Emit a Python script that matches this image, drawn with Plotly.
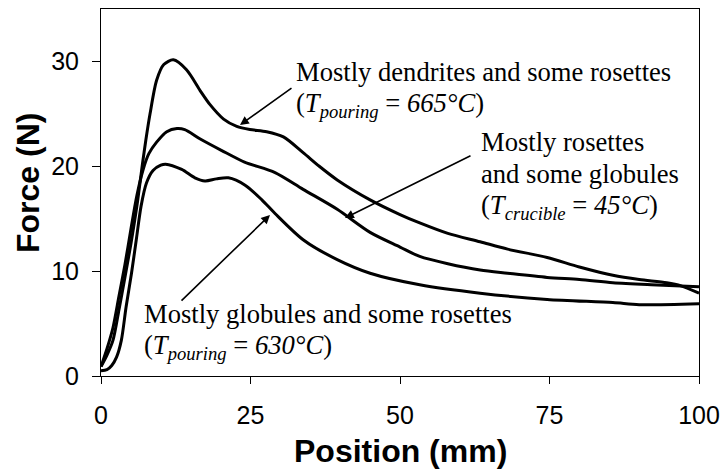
import plotly.graph_objects as go

# ---- data ----
x_dend = [0, 1, 2, 3, 4, 5, 6, 7, 7.5, 8.2, 9.3, 10.5, 12.1, 14.3, 16.6, 18.2, 20.5,
          22.7, 24.9, 27.7, 30.5, 33.8, 36.5, 39.5, 45, 50, 53.3, 58, 63.4, 68, 74.6,
          80, 85.6, 90, 94.6, 97, 100]
f_dend = [0.9, 2.0, 3.4, 6.3, 9.4, 12.6, 16.2, 20.5, 22.5, 25.0, 28.2, 29.7, 30.15,
          29.2, 27.2, 25.9, 24.5, 23.8, 23.5, 23.3, 22.8, 21.3, 20.0, 18.7, 16.8, 15.4,
          14.6, 13.6, 12.8, 12.1, 11.3, 10.4, 9.6, 9.2, 8.9, 8.6, 7.9]

x_ros = [0, 1, 2, 3, 4, 5, 6, 7, 8, 9.3, 11, 12.7, 14, 16.6, 20.2, 24, 29.1, 33.8,
         39.5, 45, 50, 53.3, 58, 63.4, 68, 74.6, 80, 85.6, 92, 100]
f_ros = [0.9, 2.6, 4.6, 7.6, 10.6, 14.0, 17.2, 19.6, 21.2, 22.3, 23.3, 23.6, 23.5,
         22.6, 21.5, 20.4, 19.4, 17.8, 15.9, 13.7, 12.3, 11.4, 10.7, 10.1, 9.8, 9.4,
         9.2, 8.9, 8.7, 8.5]

x_glob = [0, 1, 1.8, 2.6, 3.4, 4.2, 5.1, 5.9, 6.7, 7.6, 8.7, 10, 10.8, 13.5, 15.7,
          17.4, 19.3, 21.3, 24.1, 26.9, 29.1, 33.8, 39.5, 45, 53.3, 63.4, 74.6, 85.6,
          90, 100]
f_glob = [0.5, 0.6, 1.0, 1.8, 3.4, 6.6, 9.8, 13.0, 16.2, 18.4, 19.6, 20.1, 20.2, 19.7,
          18.9, 18.6, 18.8, 18.9, 18.2, 16.8, 15.5, 13.0, 11.1, 9.8, 8.7, 7.9, 7.3, 7.0,
          6.8, 6.9]

x_ticks = [0, 25, 50, 75, 100]
y_ticks = [0, 10, 20, 30]

label_dend = ["Mostly dendrites and some rosettes",
              "(<i>T<sub>pouring</sub></i> = <i>665°C</i>)"]
label_ros = ["Mostly rosettes", "and some globules",
             "(<i>T<sub>crucible</sub></i> = <i>45°C</i>)"]
label_glob = ["Mostly globules and some rosettes",
              "(<i>T<sub>pouring</sub></i> = <i>630°C</i>)"]

# ---- figure ----
W, H = 722, 470
L, R, T, B = 101, 23, 9, 94
XMAX, YMAX = 100, 35


def px2x(px):
    return (px - L) / (W - L - R) * XMAX


def py2y(py):
    return (H - B - py) / (H - B - T) * YMAX


fig = go.Figure()
line = dict(color="black", width=3, shape="spline", smoothing=0.8)
for xs, ys in [(x_dend, f_dend), (x_ros, f_ros), (x_glob, f_glob)]:
    fig.add_trace(go.Scatter(x=xs, y=ys, mode="lines", line=line,
                             showlegend=False, hoverinfo="skip"))

serif = dict(family="Liberation Serif, Times New Roman, serif", size=26.6, color="black")
ann = []


def add_lines(lines, left_px, centers_px):
    for txt, cy in zip(lines, centers_px):
        ann.append(dict(x=px2x(left_px), y=py2y(cy), xref="x", yref="y",
                        text=txt, showarrow=False, xanchor="left", yanchor="middle",
                        font=serif, align="left"))


add_lines(label_dend, 294, [72, 105])
add_lines(label_ros, 479, [142, 174, 207])
add_lines(label_glob, 142, [314, 347])


def add_arrow(head, tail):
    ann.append(dict(x=px2x(head[0]), y=py2y(head[1]), xref="x", yref="y",
                    ax=px2x(tail[0]), ay=py2y(tail[1]), axref="x", ayref="y",
                    text="", showarrow=True, arrowhead=2, arrowsize=1.1,
                    arrowwidth=1.6, arrowcolor="black", standoff=0))


add_arrow((240, 125), (293, 87))
add_arrow((345, 218), (472, 155))
add_arrow((270, 215), (180, 302))

sans_bold = dict(family="Liberation Sans, Arial, sans-serif", size=32, color="black")
ann.append(dict(xref="paper", yref="paper", x=0.5,
                y=-(451 - (H - B)) / (H - B - T), text="<b>Position (mm)</b>",
                showarrow=False, font=sans_bold, xanchor="center", yanchor="middle"))
ann.append(dict(xref="paper", yref="paper", x=-(L - 28) / (W - L - R),
                y=(H - B - 183) / (H - B - T), text="<b>Force (N)</b>",
                showarrow=False, font=sans_bold, textangle=-90,
                xanchor="center", yanchor="middle"))

axis_common = dict(showline=True, linecolor="black", linewidth=1, mirror=True,
                   ticks="outside", tickcolor="black", tickwidth=1, showgrid=False,
                   zeroline=False,
                   tickfont=dict(family="Liberation Sans, Arial, sans-serif", size=25,
                                 color="black"))

fig.update_layout(
    width=W, height=H, margin=dict(l=L, r=R, t=T, b=B, autoexpand=False),
    paper_bgcolor="white", plot_bgcolor="white",
    xaxis=dict(range=[0, XMAX], tickvals=x_ticks, ticklen=7, ticklabelstandoff=10,
               **axis_common),
    yaxis=dict(range=[0, YMAX], tickvals=y_ticks, ticklen=8, ticklabelstandoff=8,
               **axis_common),
    annotations=ann,
)

fig.write_html("out.html")
